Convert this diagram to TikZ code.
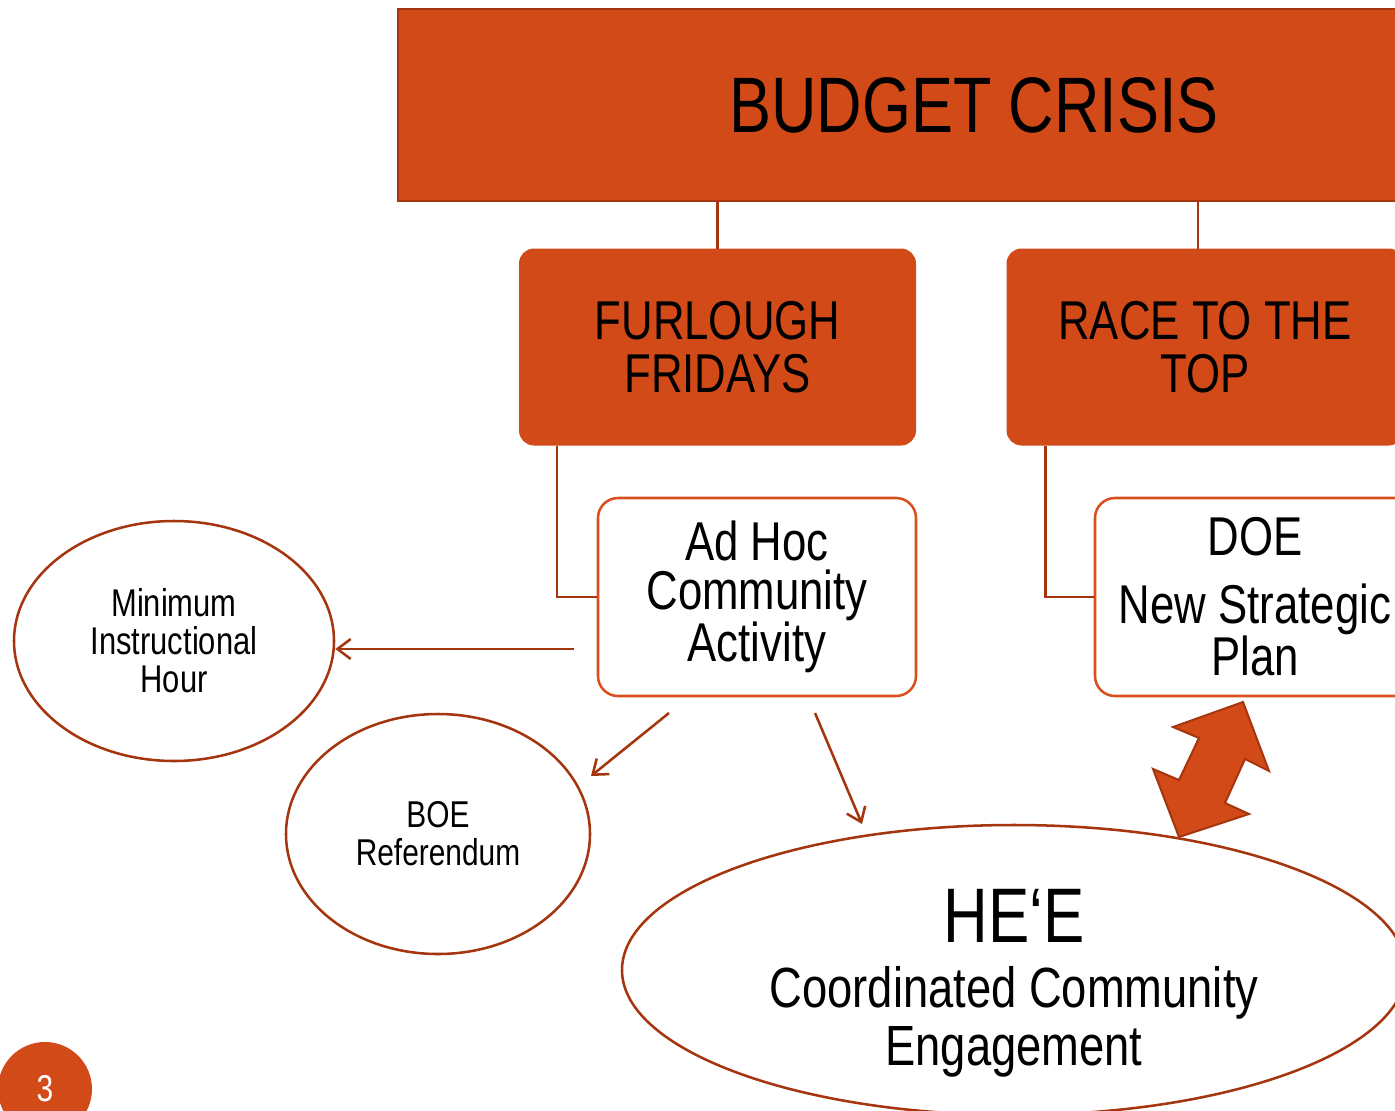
\documentclass[tikz,border=0pt]{standalone}
\usepackage{fontspec}
\setmainfont[FakeStretch=0.8]{Liberation Sans}
\usetikzlibrary{shapes.geometric,arrows.meta,calc}
\definecolor{orng}{HTML}{D14A17}
\definecolor{dorng}{HTML}{A5350F}
\definecolor{lorng}{HTML}{D9501E}
\tikzset{
  orangebox/.style={draw=dorng, line width=1.5pt, fill=orng, align=center, inner sep=0pt},
  whitebox/.style={draw=lorng, line width=1.9pt, fill=white, rounded corners=15pt, align=center, inner sep=0pt,
     minimum width=238.5pt, minimum height=148.5pt},
  oval/.style={ellipse, draw=dorng, line width=1.9pt, fill=white, align=center, inner sep=0pt},
  link/.style={draw=dorng, line width=1.9pt},
  arr/.style={draw=dorng, line width=1.9pt, -{Straight Barb[length=10pt,width=15pt,line width=1.9pt]}}
}
\begin{document}
\begin{tikzpicture}[x=0.75pt,y=-0.75pt]
\useasboundingbox (0,0) rectangle (1395,1110);
\clip (0,0) rectangle (1395,1110);
\fill[white] (0,0) rectangle (1395,1110);

\node[orangebox, minimum width=864pt, minimum height=144pt, font=\fontsize{59}{60}\selectfont] (budget) at (974,105) {BUDGET CRISIS};

\node[orangebox, draw=orng, rounded corners=10.5pt, minimum width=296.25pt, minimum height=146.25pt, font=\fontsize{41}{40}\selectfont] (furlough) at (717.5,347) {FURLOUGH\\FRIDAYS};
\node[orangebox, draw=orng, rounded corners=10.5pt, minimum width=296.25pt, minimum height=146.25pt, font=\fontsize{41}{40}\selectfont] (race) at (1205,347) {RACE TO THE\\TOP};

\coordinate (rx) at (1198,0);
\draw[link] (budget.south -| furlough.north) -- (furlough.north);
\draw[link] (budget.south -| rx) -- (race.north -| rx);

\node[whitebox, font=\fontsize{41}{37}\selectfont] (adhoc) at (757,597) {Ad Hoc\\Community\\Activity};
\node[whitebox, minimum width=240pt, font=\fontsize{41}{37}\selectfont] (doe) at (1255,597) {DOE\\[14pt]New Strategic\\Plan};

\draw[link] ([xshift=28.5pt]furlough.south west) |- (adhoc.west);
\draw[link] ([xshift=29.25pt]race.south west) |- (doe.west);

\node[oval, minimum width=240pt, minimum height=180pt, font=\fontsize{29}{28.5}\selectfont] (minhour) at (174,641) {Minimum\\Instructional\\Hour};
\node[oval, minimum width=228pt, minimum height=180pt, font=\fontsize{28}{28.5}\selectfont] (boe) at (438,834) {BOE\\Referendum};
\node[oval, minimum width=588pt, minimum height=217.5pt] (hee) at (1014,970) {};
\node[align=center, inner sep=0pt, font=\fontsize{42.5}{43}\selectfont] (heetext) at (1014,983) {{\fontsize{58}{60}\selectfont HE‘E}\\[6pt]Coordinated Community\\Engagement};

\coordinate (s1) at (574,649);
\coordinate (s2) at (669,713);
\coordinate (e2) at (591,776);
\coordinate (s3) at (815,713);
\coordinate (e3) at (862,824);
\draw[arr] (s1) -- (s1 -| minhour.east);
\draw[arr] (s2) -- (e2);
\draw[arr] (s3) -- (e3);

\draw[draw=dorng, line width=1.5pt, fill=orng, line join=miter]
  (1243,702) -- (1269,771) -- (1245,759) -- (1225,803) -- (1249,814) -- (1179,837)
  -- (1153,769) -- (1179,780) -- (1199,738) -- (1173,727) -- cycle;

\node[circle, fill=orng, minimum size=70.5pt, inner sep=0pt, text=white, font=\fontsize{28}{30}\selectfont] (page) at (45,1089) {3};
\end{tikzpicture}
\end{document}
